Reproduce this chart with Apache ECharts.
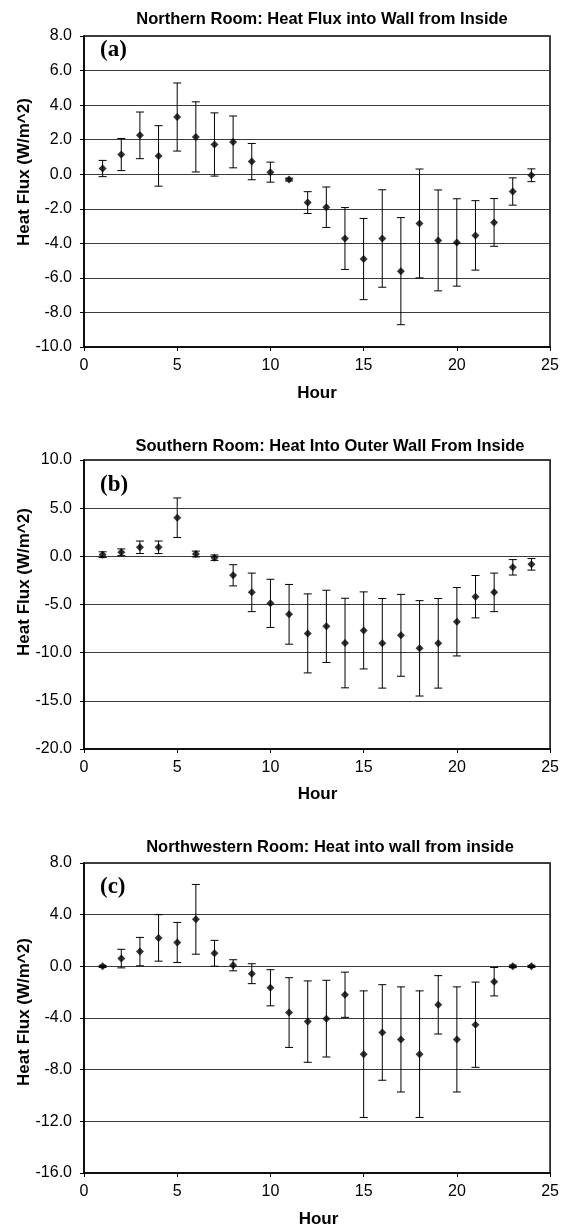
<!DOCTYPE html>
<html>
<head>
<meta charset="utf-8">
<script src="https://cdn.jsdelivr.net/npm/echarts@6/dist/echarts.min.js"></script>
<style>html,body{margin:0;padding:0;background:#fff}#c{width:562px;height:1230px}</style>
</head>
<body>
<div id="c"></div>
<script>
const hours = [1,2,3,4,5,6,7,8,9,10,11,12,13,14,15,16,17,18,19,20,21,22,23,24];

const titles = [
  'Northern Room: Heat Flux into Wall from Inside',
  'Southern Room: Heat Into Outer Wall From Inside',
  'Northwestern Room: Heat into wall from inside'
];
const panelLabels = ['(a)', '(b)', '(c)'];
const yAxisTitle = 'Heat Flux (W/m^2)';
const xAxisTitle = 'Hour';

const valuesA = [0.33, 1.14, 2.25, 1.06, 3.31, 2.16, 1.72, 1.87, 0.73, 0.12, -0.31, -1.64, -1.91, -3.72, -4.91, -3.72, -5.61, -2.85, -3.83, -3.95, -3.54, -2.79, -1.0, -0.06];
const errorsA = [0.47, 0.93, 1.35, 1.75, 1.97, 2.03, 1.83, 1.5, 1.05, 0.58, 0.08, 0.63, 1.17, 1.79, 2.35, 2.82, 3.1, 3.15, 2.92, 2.53, 2.01, 1.38, 0.79, 0.37];

const valuesB = [0.17, 0.42, 0.94, 0.94, 4.01, 0.24, -0.14, -1.97, -3.74, -4.88, -6.02, -8.0, -7.27, -9.0, -7.69, -9.03, -8.2, -9.55, -9.03, -6.79, -4.19, -3.74, -1.14, -0.83];
const errorsB = [0.3, 0.35, 0.65, 0.65, 2.05, 0.3, 0.28, 1.1, 2.0, 2.5, 3.1, 4.1, 3.75, 4.65, 4.0, 4.65, 4.25, 4.95, 4.65, 3.55, 2.2, 2.0, 0.8, 0.6];

const valuesC = [0.0, 0.6, 1.14, 2.2, 1.85, 3.64, 1.01, 0.08, -0.57, -1.66, -3.58, -4.28, -4.05, -2.2, -6.8, -5.12, -5.66, -6.8, -2.98, -5.66, -4.52, -1.19, 0.0, 0.0];
const errorsC = [0.08, 0.72, 1.1, 1.8, 1.55, 2.7, 1.0, 0.43, 0.77, 1.4, 2.7, 3.15, 2.97, 1.75, 4.9, 3.7, 4.07, 4.9, 2.26, 4.07, 3.3, 1.1, 0.1, 0.08];

const yRanges = [
  {min: -10, max: 8, interval: 2},
  {min: -20, max: 10, interval: 5},
  {min: -16, max: 8, interval: 4}
];
const xRange = {min: 0, max: 25, interval: 5};

const panels = [
  {values: valuesA, errors: errorsA},
  {values: valuesB, errors: errorsB},
  {values: valuesC, errors: errorsC}
];

// layout (pixels)
const gridBoxes = [
  {left: 84, top: 36, width: 466, height: 311},
  {left: 84, top: 460, width: 467, height: 289},
  {left: 84, top: 863, width: 469, height: 310}
];
const titleTops = [6, 433, 834];
const titleCenters = [317, 325, 325];
const labelCenters = [51, 486, 888];
const yNameCenters = [172, 582, 1012];
const xNameCenters = [393, 794, 1219];

const FONT = '"Liberation Sans", Arial, Helvetica, sans-serif';

function renderErr(params, api) {
  const x = api.value(0), lo = api.value(1), hi = api.value(2);
  const p1 = api.coord([x, hi]);
  const p2 = api.coord([x, lo]);
  const w = 4;
  const st = {stroke: '#000', lineWidth: 1};
  return {
    type: 'group',
    children: [
      {type: 'line', shape: {x1: p1[0], y1: p1[1], x2: p2[0], y2: p2[1]}, style: st},
      {type: 'line', shape: {x1: p1[0] - w, y1: p1[1], x2: p1[0] + w, y2: p1[1]}, style: st},
      {type: 'line', shape: {x1: p2[0] - w, y1: p2[1], x2: p2[0] + w, y2: p2[1]}, style: st}
    ]
  };
}

const grid = [], xAxis = [], yAxis = [], series = [], title = [], graphic = [];

panels.forEach((p, i) => {
  const g = gridBoxes[i];
  grid.push({left: g.left, top: g.top, width: g.width, height: g.height, show: true,
    borderColor: '#000', borderWidth: 1.5, backgroundColor: 'transparent'});
  xAxis.push({
    type: 'value', gridIndex: i, min: xRange.min, max: xRange.max, interval: xRange.interval,
    axisLine: {show: true, onZero: false, lineStyle: {color: '#000', width: 1.5}},
    axisTick: {show: true, inside: false, length: 4, lineStyle: {color: '#000'}},
    axisLabel: {color: '#000', fontSize: 16, fontFamily: FONT, margin: 11},
    splitLine: {show: false}
  });
  const r = yRanges[i];
  yAxis.push({
    type: 'value', gridIndex: i, min: r.min, max: r.max, interval: r.interval,
    axisLine: {show: true, onZero: false, lineStyle: {color: '#000', width: 1.5}},
    axisTick: {show: true, inside: false, length: 4, lineStyle: {color: '#000'}},
    axisLabel: {color: '#000', fontSize: 16, fontFamily: FONT, margin: 12,
      formatter: v => v.toFixed(1)},
    splitLine: {show: true, lineStyle: {color: '#3a3a3a', width: 1}}
  });
  const errData = hours.map((h, k) => [h, p.values[k] - p.errors[k], p.values[k] + p.errors[k]]);
  series.push({
    type: 'custom', xAxisIndex: i, yAxisIndex: i, renderItem: renderErr,
    data: errData, silent: true, z: 3
  });
  series.push({
    type: 'scatter', xAxisIndex: i, yAxisIndex: i, symbol: 'diamond', symbolSize: 8,
    itemStyle: {color: '#000'}, data: hours.map((h, k) => [h, p.values[k]]), z: 4
  });
  title.push({
    text: titles[i], left: titleCenters[i], top: titleTops[i], textAlign: 'center',
    textStyle: {fontFamily: FONT, fontWeight: 'bold', fontSize: 16.5, color: '#000'}
  });
  graphic.push({
    type: 'text', left: 100, top: labelCenters[i] - 12,
    style: {text: panelLabels[i], font: 'bold 23px "Liberation Serif", "Times New Roman", serif', fill: '#000'}
  });
  graphic.push({
    type: 'text', x: 24, y: yNameCenters[i], rotation: Math.PI / 2,
    style: {text: yAxisTitle, font: 'bold 17px ' + FONT, fill: '#000', align: 'center', verticalAlign: 'middle'}
  });
  graphic.push({
    type: 'text', x: g.left + g.width / 2, y: xNameCenters[i],
    style: {text: xAxisTitle, font: 'bold 17px ' + FONT, fill: '#000', align: 'center', verticalAlign: 'middle'}
  });
});

const chart = echarts.init(document.getElementById('c'), null, {renderer: 'canvas'});
chart.setOption({
  animation: false,
  backgroundColor: '#fff',
  title, grid, xAxis, yAxis, series, graphic
});
</script>
</body>
</html>
